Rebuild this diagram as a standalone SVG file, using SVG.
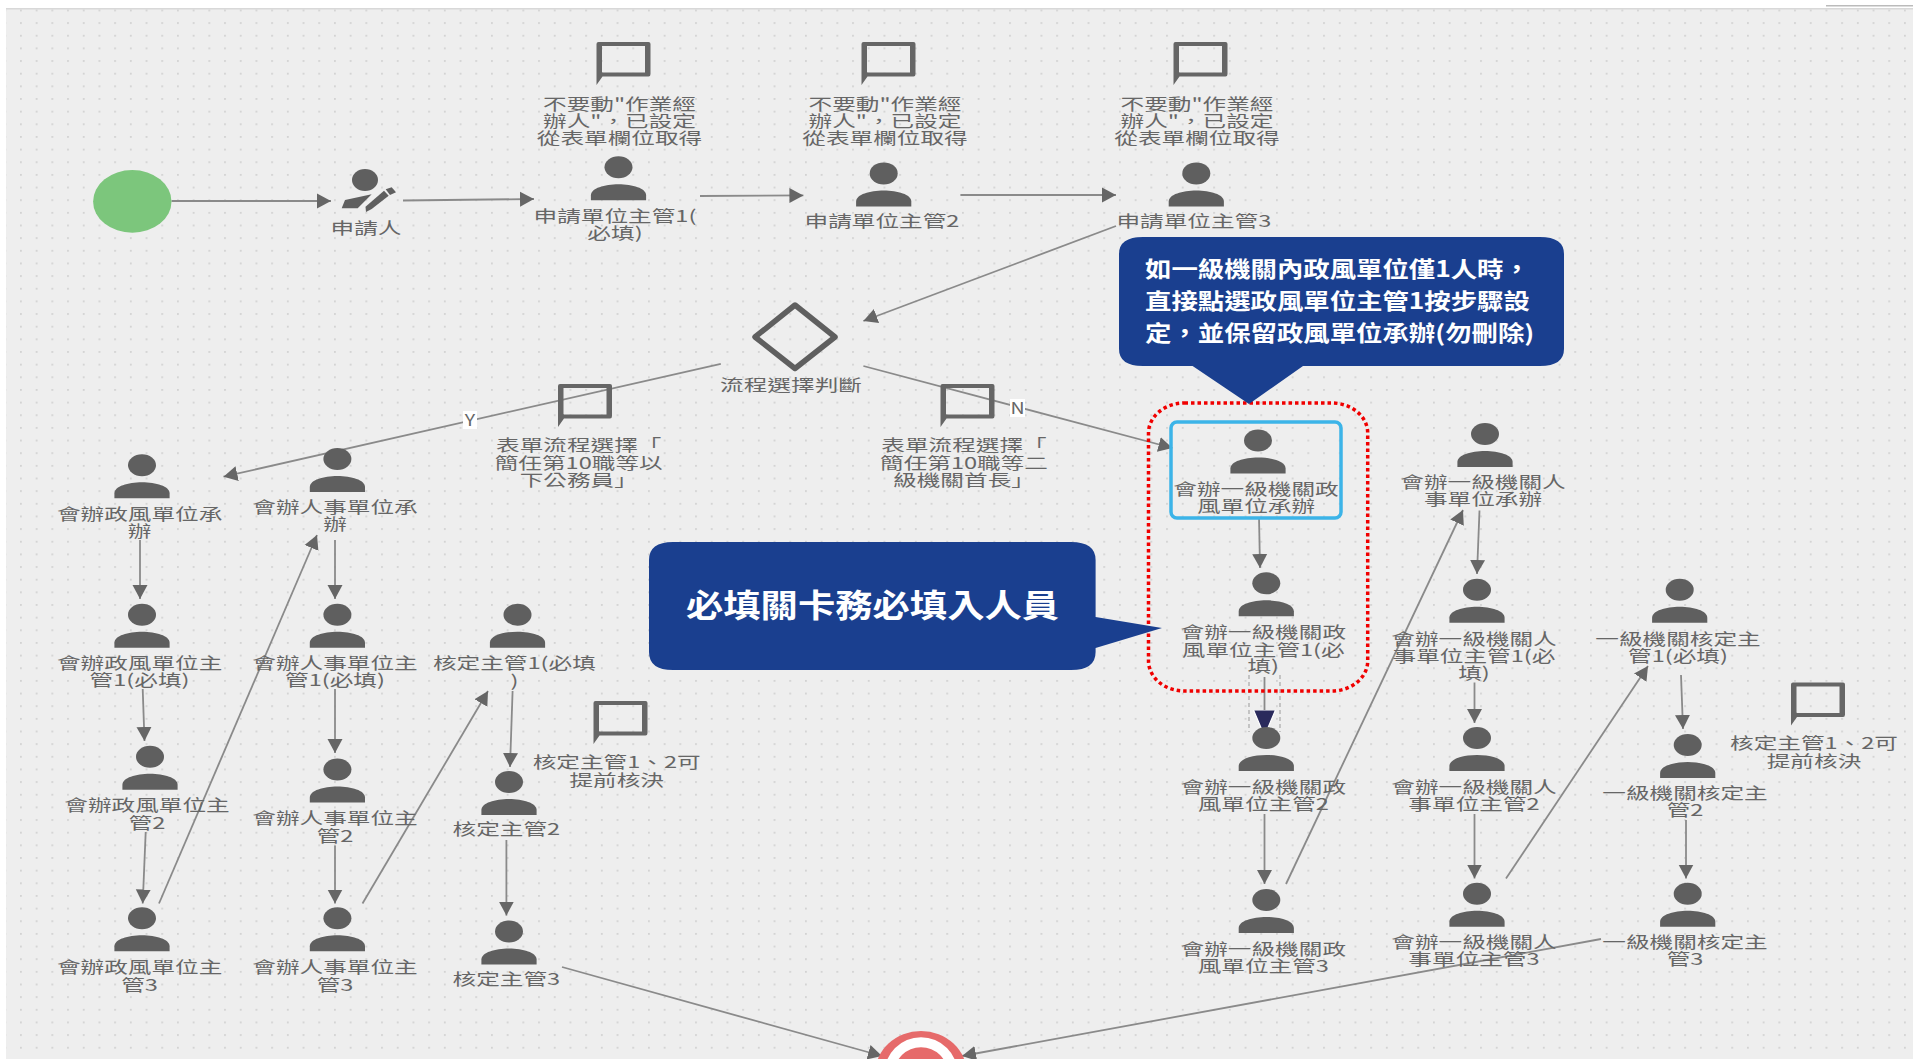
<svg xmlns="http://www.w3.org/2000/svg" width="1913" height="1059" viewBox="0 0 1913 1059">
<style>
text{font-family:"Noto Sans CJK TC","Noto Sans",sans-serif;}
.l{font-size:16.3px;fill:#666;text-anchor:middle;}
.c{stroke:#8a8a8a;stroke-width:1.8;fill:none;marker-end:url(#ah);}
.co{fill:#1a3f8f;}
.w{fill:#fff;font-weight:700;}
.p{fill:#5f5f5f;}
</style>
<defs>
<pattern id="dots" x="20" y="9.5" width="15.7" height="12.65" patternUnits="userSpaceOnUse"><rect width="1.8" height="1.8" fill="#d2d2d2"/></pattern>
<marker id="ah" markerUnits="userSpaceOnUse" markerWidth="18" markerHeight="18" refX="14" refY="8" orient="auto"><path d="M0,0.5L14,8L0,15.5Z" fill="#666"/></marker>
<marker id="ahs" markerUnits="userSpaceOnUse" markerWidth="32" markerHeight="32" refX="26" refY="13" orient="auto"><path d="M0,2L26,13L0,24Z" fill="#2a2a5c" stroke="#fff" stroke-width="1.2"/></marker>
<g id="person"><ellipse class="p" cx="0" cy="0" rx="14" ry="11"/><path class="p" d="M-27.6,33V28C-27.6,21-14,17 0,17C14,17 27.6,21 27.6,28V33Z"/></g>
<path id="cmt" fill="#666" fill-rule="evenodd" d="M2,0H52Q54,0 54,2V32Q54,34.5 52,34.5H6L0,43V2Q0,0 2,0ZM5.5,4V30L6,30.5H48.5V4Z"/>
</defs>
<rect width="1913" height="1059" fill="#fff"/>
<rect x="6" y="9" width="1907" height="1050" fill="#eeeeee"/>
<rect x="6" y="9" width="1907" height="1050" fill="url(#dots)"/>
<rect x="6" y="8" width="1907" height="1.5" fill="#d8d8d8"/>
<path d="M1820,0L1826,5H1913V0Z" fill="#fff"/><rect x="1826" y="5" width="87" height="1.5" fill="#bbb"/>

<g id="connectors">
<line class="c" x1="171.5" y1="201" x2="331" y2="201"/>
<line class="c" x1="403" y1="200.5" x2="534" y2="199"/>
<line class="c" x1="700" y1="196" x2="803.4" y2="195.4"/>
<line class="c" x1="960.4" y1="195" x2="1116" y2="195"/>
<line class="c" x1="1116" y1="226" x2="863.4" y2="321"/>
<line class="c" x1="720.8" y1="363.8" x2="223.5" y2="476.7"/>
<line class="c" x1="863.4" y1="366" x2="1172.4" y2="448"/>
<line class="c" x1="140" y1="540" x2="140" y2="599"/>
<line class="c" x1="335" y1="540" x2="335" y2="599"/>
<line class="c" x1="142.7" y1="689" x2="144.5" y2="741"/>
<line class="c" x1="335" y1="689" x2="335" y2="753"/>
<line class="c" x1="145.7" y1="832" x2="142.7" y2="903.5"/>
<line class="c" x1="335" y1="845.5" x2="335" y2="903.5"/>
<line class="c" x1="159" y1="903.5" x2="317" y2="535"/>
<line class="c" x1="362.5" y1="903.5" x2="488" y2="691"/>
<line class="c" x1="512.6" y1="691" x2="510" y2="767"/>
<line class="c" x1="506.4" y1="840" x2="506.4" y2="915.6"/>
<line class="c" x1="562" y1="967" x2="882" y2="1056"/>
<line class="c" x1="1601" y1="939" x2="962" y2="1056"/>
<line class="c" x1="1259" y1="517" x2="1260" y2="568"/>
<path d="M1249,675V732M1280,675V732" fill="none" stroke="#999" stroke-width="1" stroke-dasharray="4 3"/>
<line x1="1264.5" y1="677" x2="1264.5" y2="736" stroke="#8a8a8a" stroke-width="1.8" marker-end="url(#ahs)"/>
<line class="c" x1="1264.5" y1="814" x2="1264.5" y2="884"/>
<line class="c" x1="1286" y1="884" x2="1463" y2="510"/>
<line class="c" x1="1479.5" y1="510.5" x2="1477" y2="574"/>
<line class="c" x1="1474.5" y1="682.5" x2="1474.5" y2="723"/>
<line class="c" x1="1474.5" y1="814" x2="1474.5" y2="878.5"/>
<line class="c" x1="1506" y1="878.5" x2="1648" y2="666"/>
<line class="c" x1="1681" y1="675" x2="1683" y2="729"/>
<line class="c" x1="1686" y1="820" x2="1686" y2="878.5"/>
<g id="edge-labels">
<rect x="463" y="411" width="14" height="18" fill="#fff"/>
<text class="l" transform="matrix(1.2 0 0 1 470 426)">Y</text>
<rect x="1010" y="399" width="15" height="18" fill="#fff"/>
<text class="l" transform="matrix(1.2 0 0 1 1017.6 414)">N</text>
</g>
</g>

<g id="start"><ellipse cx="132.3" cy="201.4" rx="39.2" ry="31.3" fill="#7cc67c"/></g>
<g id="applicant">
<ellipse class="p" cx="365" cy="180" rx="13" ry="11"/>
<path class="p" d="M341.7,208.3L345,200L371.7,194.3L357.7,208.3Z"/>
<path class="p" d="M365.5,206.7L384,190.7L388.7,195.7L371.7,209L366,212Z"/>
<path class="p" d="M385.7,189.3L391.7,187.3L396,192.3L390,195Z"/>
<text class="l" transform="matrix(1.45 0 0 1 366 234)">申請人</text>
</g>

<g id="n-app1"><use href="#cmt" x="596.5" y="42"/><text class="l" transform="matrix(1.45 0 0 1 619.5 110)">不要動"作業經<tspan x="0" dy="17">辦人"，已設定</tspan><tspan x="0" dy="17">從表單欄位取得</tspan></text>
<use href="#person" x="618.5" y="167.3"/><text class="l" transform="matrix(1.45 0 0 1 615 222.4)">申請單位主管1(<tspan x="0" dy="17">必填)</tspan></text></g>
<g id="n-app2"><use href="#cmt" x="861.5" y="42"/><text class="l" transform="matrix(1.45 0 0 1 885 110)">不要動"作業經<tspan x="0" dy="17">辦人"，已設定</tspan><tspan x="0" dy="17">從表單欄位取得</tspan></text>
<use href="#person" x="883.7" y="173.4"/><text class="l" transform="matrix(1.45 0 0 1 882 227.4)">申請單位主管2</text></g>
<g id="n-app3"><use href="#cmt" x="1173.5" y="42"/><text class="l" transform="matrix(1.45 0 0 1 1197 110)">不要動"作業經<tspan x="0" dy="17">辦人"，已設定</tspan><tspan x="0" dy="17">從表單欄位取得</tspan></text>
<use href="#person" x="1196.3" y="173.4"/><text class="l" transform="matrix(1.45 0 0 1 1193.9 227.4)">申請單位主管3</text></g>

<g id="gateway"><path d="M795,305L835,337L795,368.5L755,337Z" fill="none" stroke="#5f5f5f" stroke-width="5.5" stroke-linejoin="round"/>
<text class="l" transform="matrix(1.45 0 0 1 791 391.4)">流程選擇判斷</text></g>
<g id="note-y"><use href="#cmt" x="558" y="384"/><text class="l" transform="matrix(1.45 0 0 1 578.7 451)">表單流程選擇「<tspan x="0" dy="17.5">簡任第10職等以</tspan><tspan x="0" dy="17.5">下公務員」</tspan></text></g>
<g id="note-n"><use href="#cmt" x="940.5" y="384"/><text class="l" transform="matrix(1.45 0 0 1 964 451)">表單流程選擇「<tspan x="0" dy="17.5">簡任第10職等二</tspan><tspan x="0" dy="17.5">級機關首長」</tspan></text></g>

<g id="n-a0"><use href="#person" x="142" y="465.2"/><text class="l" transform="matrix(1.45 0 0 1 139.6 520)">會辦政風單位承<tspan x="0" dy="17">辦</tspan></text></g>
<g id="n-a1"><use href="#person" x="142" y="614.7"/><text class="l" transform="matrix(1.45 0 0 1 139.6 669.3)">會辦政風單位主<tspan x="0" dy="17">管1(必填)</tspan></text></g>
<g id="n-a2"><use href="#person" x="150" y="756.7"/><text class="l" transform="matrix(1.45 0 0 1 147 811)">會辦政風單位主<tspan x="0" dy="18">管2</tspan></text></g>
<g id="n-a3"><use href="#person" x="142" y="918.3"/><text class="l" transform="matrix(1.45 0 0 1 139.6 973)">會辦政風單位主<tspan x="0" dy="18">管3</tspan></text></g>
<g id="n-b0"><use href="#person" x="337.4" y="459"/><text class="l" transform="matrix(1.45 0 0 1 335 513)">會辦人事單位承<tspan x="0" dy="17">辦</tspan></text></g>
<g id="n-b1"><use href="#person" x="337.4" y="614.7"/><text class="l" transform="matrix(1.45 0 0 1 335 669.3)">會辦人事單位主<tspan x="0" dy="17">管1(必填)</tspan></text></g>
<g id="n-b2"><use href="#person" x="337.4" y="769.5"/><text class="l" transform="matrix(1.45 0 0 1 335 823.5)">會辦人事單位主<tspan x="0" dy="18">管2</tspan></text></g>
<g id="n-b3"><use href="#person" x="337.4" y="918.3"/><text class="l" transform="matrix(1.45 0 0 1 335 973)">會辦人事單位主<tspan x="0" dy="18">管3</tspan></text></g>
<g id="n-c1"><use href="#person" x="517.5" y="614.7"/><text class="l" transform="matrix(1.45 0 0 1 514.4 669.3)">核定主管1(必填<tspan x="0" dy="18">)</tspan></text></g>
<g id="n-c2"><use href="#person" x="509" y="782"/><text class="l" transform="matrix(1.45 0 0 1 506.4 835)">核定主管2</text></g>
<g id="n-c3"><use href="#person" x="509" y="931.5"/><text class="l" transform="matrix(1.45 0 0 1 506.4 985)">核定主管3</text></g>
<g id="note-c"><use href="#cmt" x="593.5" y="701"/><text class="l" transform="matrix(1.45 0 0 1 616.7 768)">核定主管1、2可<tspan x="0" dy="18">提前核決</tspan></text></g>

<g id="n-d0"><rect x="1171" y="422" width="170" height="96" rx="6" fill="none" stroke="#3cb4e8" stroke-width="3.5"/><use href="#person" x="1258" y="440.5"/><text class="l" transform="matrix(1.45 0 0 1 1256 495)">會辦一級機關政<tspan x="0" dy="17">風單位承辦</tspan></text></g>
<g id="n-d1"><use href="#person" x="1266.3" y="583.3"/><text class="l" transform="matrix(1.45 0 0 1 1263.3 638)">會辦一級機關政<tspan x="0" dy="17.5">風單位主管1(必</tspan><tspan x="0" dy="17">填)</tspan></text></g>
<g id="n-d2"><use href="#person" x="1266.3" y="738"/><text class="l" transform="matrix(1.45 0 0 1 1263.3 793)">會辦一級機關政<tspan x="0" dy="17">風單位主管2</tspan></text></g>
<g id="n-d3"><use href="#person" x="1266.3" y="900"/><text class="l" transform="matrix(1.45 0 0 1 1263.3 955)">會辦一級機關政<tspan x="0" dy="17">風單位主管3</tspan></text></g>
<g id="n-e0"><use href="#person" x="1485" y="434"/><text class="l" transform="matrix(1.45 0 0 1 1483 488.4)">會辦一級機關人<tspan x="0" dy="17">事單位承辦</tspan></text></g>
<g id="n-e1"><use href="#person" x="1477" y="589.7"/><text class="l" transform="matrix(1.45 0 0 1 1474 644.6)">會辦一級機關人<tspan x="0" dy="17">事單位主管1(必</tspan><tspan x="0" dy="17">填)</tspan></text></g>
<g id="n-e2"><use href="#person" x="1477" y="738"/><text class="l" transform="matrix(1.45 0 0 1 1474 793)">會辦一級機關人<tspan x="0" dy="17">事單位主管2</tspan></text></g>
<g id="n-e3"><use href="#person" x="1477" y="893.7"/><text class="l" transform="matrix(1.45 0 0 1 1474 948.3)">會辦一級機關人<tspan x="0" dy="17">事單位主管3</tspan></text></g>
<g id="n-f1"><use href="#person" x="1679.7" y="589.7"/><text class="l" transform="matrix(1.45 0 0 1 1678 644.6)">一級機關核定主<tspan x="0" dy="17">管1(必填)</tspan></text></g>
<g id="n-f2"><use href="#person" x="1687.7" y="745"/><text class="l" transform="matrix(1.45 0 0 1 1685 798.5)">一級機關核定主<tspan x="0" dy="17.5">管2</tspan></text></g>
<g id="n-f3"><use href="#person" x="1687.7" y="893.7"/><text class="l" transform="matrix(1.45 0 0 1 1685 948.3)">一級機關核定主<tspan x="0" dy="17">管3</tspan></text></g>
<g id="note-f"><use href="#cmt" x="1791" y="682.5"/><text class="l" transform="matrix(1.45 0 0 1 1814 748.5)">核定主管1、2可<tspan x="0" dy="18">提前核決</tspan></text></g>

<g id="end"><ellipse cx="921" cy="1074" rx="46" ry="43" fill="#e66a6a"/><ellipse cx="921" cy="1074" rx="36.7" ry="36.7" fill="#fff"/><ellipse cx="921" cy="1074" rx="27" ry="26.7" fill="#e66a6a"/></g>

<g id="highlight"><rect x="1148.5" y="403" width="219.2" height="288" rx="36" ry="30" fill="none" stroke="#f00000" stroke-width="3.5" stroke-dasharray="3.5 3"/></g>
<g id="callout-top">
<path class="co" d="M1143,237H1540Q1564,237 1564,254V349Q1564,366 1540,366H1303L1249,404L1192.6,366H1143Q1119,366 1119,349V254Q1119,237 1143,237Z"/>
<text class="w" font-size="22" transform="matrix(1.2 0 0 1 1145 277)">如一級機關內政風單位僅1人時，<tspan x="0" dy="32">直接點選政風單位主管1按步驟設</tspan><tspan x="0" dy="32">定，並保留政風單位承辦(勿刪除)</tspan></text>
</g>
<g id="callout-left">
<path class="co" d="M673,542H1071Q1095.6,542 1095.6,560V617L1162,628L1095.6,648V652Q1095.6,670 1071,670H673Q649,670 649,652V560Q649,542 673,542Z"/>
<text class="w" font-size="32" transform="matrix(1.166 0 0 1 686 617)">必填關卡務必填入人員</text>
</g>
</svg>
